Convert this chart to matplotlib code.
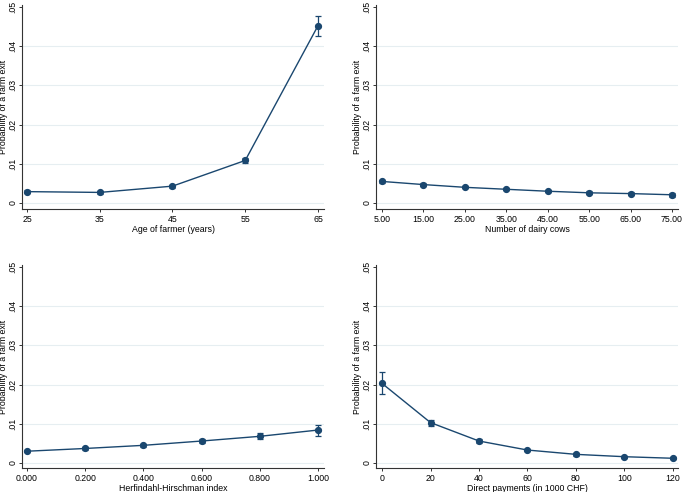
import matplotlib
matplotlib.use("Agg")
from matplotlib import pyplot as plt
import numpy as np

plt.rcParams['font.family'] = ['Liberation Sans', 'DejaVu Sans']

# margins at sample values (Stata-style marginsplot)
age = [25, 35, 45, 55, 65]
age_p = [0.0029, 0.0027, 0.0043, 0.01085, 0.0452]
age_lo = [0.0026, 0.0024, 0.0039, 0.0103, 0.0426]
age_hi = [0.0032, 0.0030, 0.0047, 0.0114, 0.0478]

cows = [5, 15, 25, 35, 45, 55, 65, 75]
cows_p = [0.0055, 0.0047, 0.0040, 0.0035, 0.0030, 0.0026, 0.0024, 0.0021]
cows_lo = [0.0051, 0.0044, 0.0037, 0.0032, 0.0027, 0.0023, 0.0020, 0.0016]
cows_hi = [0.0059, 0.0050, 0.0043, 0.0038, 0.0033, 0.0030, 0.0028, 0.0026]

hhi = [0.0, 0.2, 0.4, 0.6, 0.8, 1.0]
hhi_p = [0.0030, 0.0037, 0.0045, 0.0056, 0.0068, 0.0084]
hhi_lo = [0.0027, 0.0034, 0.0042, 0.0052, 0.0061, 0.0070]
hhi_hi = [0.0033, 0.0040, 0.0048, 0.0060, 0.0076, 0.0098]

dp = [0, 20, 40, 60, 80, 100, 120]
dp_p = [0.0203, 0.0103, 0.0056, 0.0033, 0.0022, 0.0016, 0.0012]
dp_lo = [0.0177, 0.0095, 0.0052, 0.0030, 0.0019, 0.0013, 0.0009]
dp_hi = [0.0231, 0.0110, 0.0060, 0.0036, 0.0025, 0.0019, 0.0015]

yticks = [0, 0.01, 0.02, 0.03, 0.04, 0.05]
ytick_labels = ['0', '.01', '.02', '.03', '.04', '.05']

W, H = 685, 492
navy = '#1a476f'
grid_col = '#e6eef1'
fs = 6.3

fig = plt.figure(figsize=(W / 100, H / 100), dpi=100)


def panel(box, x, p, lo, hi, xlim, ylim, xticks, xticklabels, xlabel):
    # box in pixels: left, top, right, bottom
    l, t, r, b = box
    ax = fig.add_axes([l / W, 1 - b / H, (r - l) / W, (b - t) / H])
    p = np.array(p)
    yerr = [p - np.array(lo), np.array(hi) - p]
    ax.errorbar(x, p, yerr=yerr, color=navy, lw=1.0, marker='o', ms=4.2,
                capsize=2.2, elinewidth=0.9, capthick=0.9, zorder=3)
    ax.set_xlim(*xlim)
    ax.set_ylim(*ylim)
    ax.set_yticks(yticks)
    ax.set_yticklabels(ytick_labels, rotation=90, va='center')
    ax.set_xticks(xticks)
    ax.set_xticklabels(xticklabels)
    for yv in yticks[:-1]:
        ax.axhline(yv, color=grid_col, lw=0.8, zorder=0)
    ax.spines['top'].set_visible(False)
    ax.spines['right'].set_visible(False)
    for s in ['left', 'bottom']:
        ax.spines[s].set_linewidth(0.8)
        ax.spines[s].set_color('#333333')
    ax.tick_params(axis='both', labelsize=fs, length=2.3, width=0.7,
                   color='#333333', pad=2)
    ax.tick_params(axis='y', pad=1.2)
    ax.set_xlabel(xlabel, fontsize=fs, labelpad=0.5)
    ax.set_ylabel('Probability of a farm exit', fontsize=fs)
    # put the y title right of the figure edge, as in the original
    ax.yaxis.set_label_coords(-13.5 / (r - l), 0.5)
    return ax


panel((22, 5, 324, 209), age, age_p, age_lo, age_hi,
      (24.31, 65.83), (-0.00153, 0.0505),
      age, [str(a) for a in age], 'Age of farmer (years)')

panel((376, 5, 678, 209), cows, cows_p, cows_lo, cows_hi,
      (3.55, 76.45), (-0.00153, 0.0505),
      cows, ['%.2f' % c for c in cows], 'Number of dairy cows')

panel((22, 265, 324, 468), hhi, hhi_p, hhi_lo, hhi_hi,
      (-0.0172, 1.0207), (-0.00128, 0.0505),
      hhi, ['%.3f' % h for h in hhi], 'Herfindahl-Hirschman index')

panel((376, 265, 678, 468), dp, dp_p, dp_lo, dp_hi,
      (-2.48, 122.07), (-0.00128, 0.0505),
      dp, [str(d) for d in dp], 'Direct payments (in 1000 CHF)')

fig.savefig('out.png', dpi=100, facecolor='white')
